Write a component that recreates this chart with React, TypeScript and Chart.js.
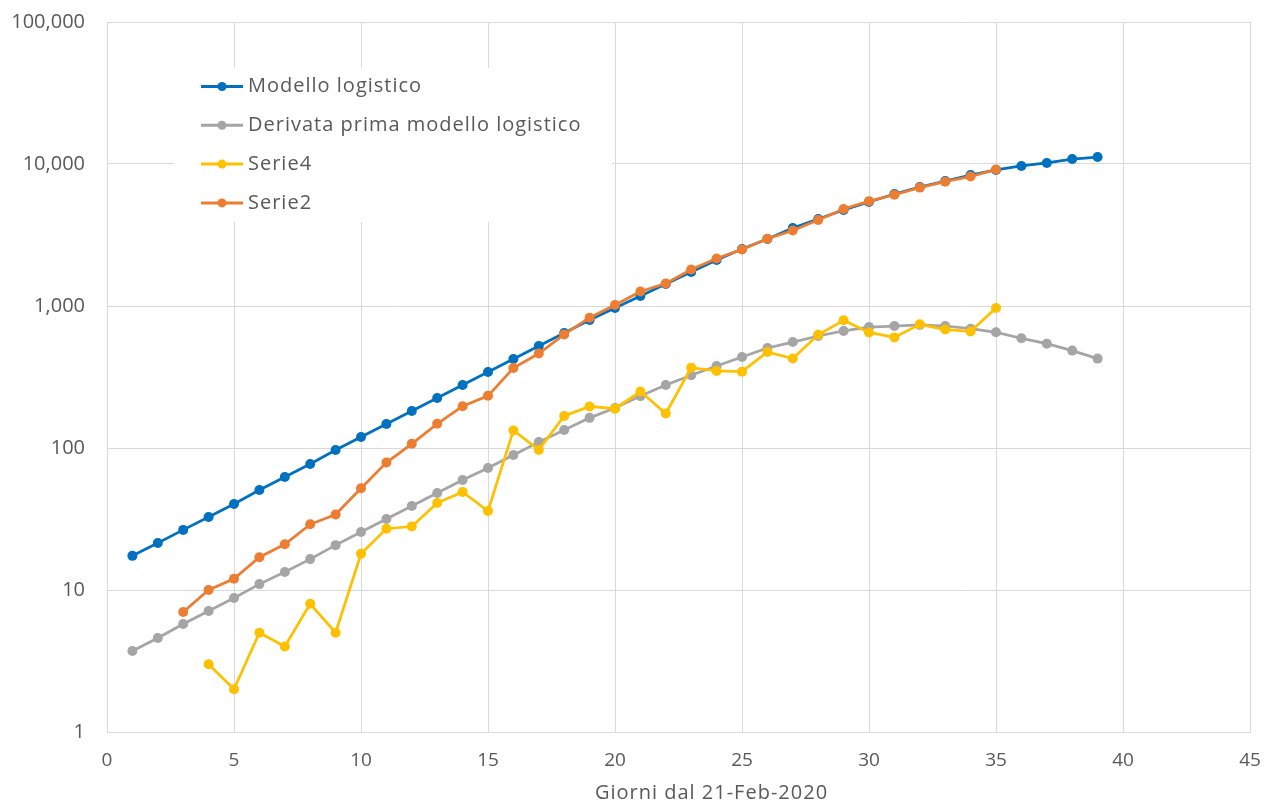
import React, { useEffect, useRef } from "react";
import { Chart, registerables } from "chart.js";

Chart.register(...registerables);

const days = [1, 2, 3, 4, 5, 6, 7, 8, 9, 10, 11, 12, 13, 14, 15, 16, 17, 18, 19, 20, 21, 22, 23, 24, 25, 26, 27, 28, 29, 30, 31, 32, 33, 34, 35, 36, 37, 38, 39];

const modelloLogistico = [17.4, 21.4, 26.5, 32.7, 40.3, 50.6, 62.5, 77.1, 96.8, 119.5, 147.6, 182, 225, 278, 343, 424, 523, 645, 797, 968, 1176, 1428, 1735, 2107, 2519, 2963, 3542, 4100, 4747, 5400, 6150, 6890, 7590, 8370, 9080, 9690, 10170, 10840, 11190];

const derivataPrima = [3.72, 4.59, 5.76, 7.11, 8.78, 11.0, 13.4, 16.5, 20.7, 25.6, 31.6, 39, 48.2, 59.5, 72.3, 89.3, 110, 134, 163, 191, 232, 278, 325, 378, 437, 506, 557, 615, 667, 711, 723, 735, 723, 692, 653, 592, 543, 485, 426];

const serie4 = [null, null, null, 3, 2, 5, 4, 8, 5, 18, 27, 28, 41, 49, 36, 133, 97, 168, 196, 189, 250, 175, 368, 349, 345, 475, 427, 627, 793, 651, 601, 743, 683, 662, 969, null, null, null, null];

const serie2 = [null, null, 7, 10, 12, 17, 21, 29, 34, 52, 79, 107, 148, 197, 233, 366, 463, 631, 827, 1016, 1266, 1441, 1809, 2158, 2503, 2978, 3405, 4032, 4825, 5476, 6077, 6820, 7503, 8165, 9134, null, null, null, null];

const yTicks = [1, 10, 100, 1000, 10000, 100000];
const xTitle = "Giorni dal 21-Feb-2020";

const FONT = "'Open Sans', 'Liberation Sans', sans-serif";
const TEXT = "#595959";
const GRID = "#d9d9d9";

function pts(vals: (number | null)[]) {
  const out: { x: number; y: number }[] = [];
  vals.forEach((v, i) => {
    if (v !== null) out.push({ x: days[i], y: v });
  });
  return out;
}

const legendPlugin = {
  id: "excelLegend",
  afterDatasetsDraw(chart: any) {
    const { ctx, chartArea } = chart;
    const bx = chartArea.left + 67;
    const by = chartArea.top + 46;
    ctx.save();
    ctx.fillStyle = "#ffffff";
    ctx.fillRect(bx, by, 438, 154);
    const items = [0, 1, 2, 3];
    items.forEach((idx, row) => {
      const ds = chart.data.datasets[idx];
      const y = by + 18.5 + row * 38.8;
      ctx.strokeStyle = ds.borderColor;
      ctx.lineWidth = 3;
      ctx.beginPath();
      ctx.moveTo(bx + 27, y);
      ctx.lineTo(bx + 69, y);
      ctx.stroke();
      ctx.fillStyle = ds.borderColor;
      ctx.beginPath();
      ctx.arc(bx + 48, y, 4.5, 0, Math.PI * 2);
      ctx.fill();
      ctx.fillStyle = TEXT;
      ctx.font = `20px ${FONT}`;
      (ctx as any).letterSpacing = "1px";
      ctx.textBaseline = "middle";
      ctx.textAlign = "left";
      ctx.fillText(ds.label, bx + 74, y);
    });
    ctx.restore();
  },
};

const titlePlugin = {
  id: "xTitle",
  afterDraw(chart: any) {
    const { ctx, chartArea } = chart;
    ctx.save();
    ctx.fillStyle = TEXT;
    ctx.font = `20px ${FONT}`;
    (ctx as any).letterSpacing = "1px";
    ctx.textAlign = "center";
    ctx.textBaseline = "middle";
    ctx.fillText(xTitle, (chartArea.left + chartArea.right) / 2 + 33, chartArea.bottom + 61);
    ctx.restore();
  },
};

export default function App() {
  const ref = useRef<HTMLCanvasElement | null>(null);

  useEffect(() => {
    if (!ref.current) return;
    const common = {
      borderWidth: 2.75,
      pointRadius: 5,
      pointHoverRadius: 5,
      pointBorderWidth: 0,
      tension: 0,
      fill: false,
    };
    const chart = new Chart(ref.current, {
      type: "line",
      data: {
        datasets: [
          {
            ...common,
            label: "Modello logistico",
            data: pts(modelloLogistico),
            borderColor: "#0070C0",
            backgroundColor: "#0070C0",
            pointBackgroundColor: "#0070C0",
            order: 3,
          },
          {
            ...common,
            label: "Derivata prima modello logistico",
            data: pts(derivataPrima),
            borderColor: "#A5A5A5",
            backgroundColor: "#A5A5A5",
            pointBackgroundColor: "#A5A5A5",
            order: 2,
          },
          {
            ...common,
            label: "Serie4",
            data: pts(serie4),
            borderColor: "#FFC000",
            backgroundColor: "#FFC000",
            pointBackgroundColor: "#FFC000",
            order: 1,
          },
          {
            ...common,
            label: "Serie2",
            data: pts(serie2),
            borderColor: "#ED7D31",
            backgroundColor: "#ED7D31",
            pointBackgroundColor: "#ED7D31",
            order: 0,
          },
        ],
      } as any,
      options: {
        responsive: false,
        animation: false,
        layout: { padding: { top: 22, right: 15, left: 0, bottom: 0 } },
        plugins: {
          legend: { display: false },
          tooltip: { enabled: false },
        },
        scales: {
          x: {
            type: "linear",
            min: 0,
            max: 45,
            ticks: {
              stepSize: 5,
              color: TEXT,
              font: { family: FONT, size: 19 },
              padding: 17,
            },
            grid: { color: GRID, lineWidth: 1, drawTicks: false },
            border: { color: GRID, width: 1 },
            afterFit: (s: any) => {
              s.height = 73;
              s.paddingLeft = 0;
              s.paddingRight = 0;
            },
          },
          y: {
            type: "logarithmic",
            min: 1,
            max: 100000,
            afterBuildTicks: (s: any) => {
              s.ticks = yTicks.map((v) => ({ value: v }));
            },
            ticks: {
              color: TEXT,
              font: { family: FONT, size: 20 },
              padding: 22,
              callback: (v: any) => Number(v).toLocaleString("en-US"),
            },
            grid: { color: GRID, lineWidth: 1, drawTicks: false },
            border: { color: GRID, width: 1 },
            afterFit: (s: any) => {
              s.width = 107;
              s.paddingTop = 0;
              s.paddingBottom = 0;
            },
          },
        },
      } as any,
      plugins: [legendPlugin, titlePlugin],
    });
    return () => chart.destroy();
  }, []);

  return (
    <div style={{ position: "fixed", left: 0, top: 0, width: 1265, height: 805, background: "#fff" }}>
      <canvas ref={ref} width={1265} height={805} style={{ width: 1265, height: 805 }} />
    </div>
  );
}
